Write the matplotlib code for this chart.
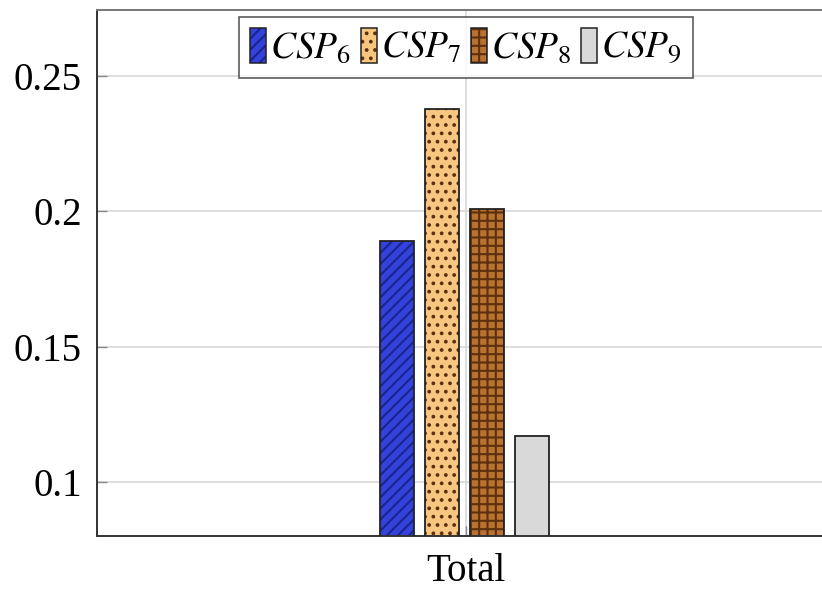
import numpy as np
import matplotlib
matplotlib.use("Agg")
import matplotlib.pyplot as plt
from matplotlib.patches import Patch

plt.rcParams['font.family'] = ['Liberation Serif', 'DejaVu Serif']
plt.rcParams['mathtext.fontset'] = 'stix'
plt.rcParams['hatch.linewidth'] = 1.5

# data
series = [r'$CSP_6$', r'$CSP_7$', r'$CSP_8$', r'$CSP_9$']
values = [0.189, 0.238, 0.201, 0.117]
category = 'Total'

face_colors = ['#3442dc', '#f8c680', '#b9722f', '#d9d9d9']
hatch_colors = ['#1a248c', '#5a3010', '#5e300e', '#d9d9d9']
hatches = ['///', '..', '++', '']

fig = plt.figure(figsize=(8.22, 5.92), dpi=100)
ax = fig.add_axes([97 / 822, 1 - 536 / 592, 738 / 822, 526 / 592])

width = 0.34
offsets = np.array([-0.675, -0.225, 0.225, 0.675]) - 0.02

handles = []
for i, v in enumerate(values):
    x = offsets[i]
    ax.bar(x, v, width, color=face_colors[i], edgecolor=hatch_colors[i],
           hatch=hatches[i], linewidth=0, zorder=2)
    ax.bar(x, v, width, fill=False, edgecolor='#222222', linewidth=1.3, zorder=3)
    handles.append((Patch(facecolor=face_colors[i], edgecolor=hatch_colors[i],
                          hatch=hatches[i], linewidth=0),
                    Patch(fill=False, edgecolor='#222222', linewidth=1.1)))

ax.set_xlim(-3.69, 3.69)
ax.set_ylim(0.08, 0.2745)
ax.set_yticks([0.1, 0.15, 0.2, 0.25])
ax.set_yticklabels(['0.1', '0.15', '0.2', '0.25'])
ax.set_xticks([0])
ax.set_xticklabels([category])

ax.tick_params(axis='both', direction='in', length=7, width=1, color='#888888',
               labelsize=28, pad=11)
ax.tick_params(axis='x', pad=12)
ax.grid(True, color='#d4d4d4', linewidth=1.1)
ax.set_axisbelow(True)

for name, sp in ax.spines.items():
    sp.set_linewidth(1.4)
    sp.set_color('#333333' if name in ('left', 'bottom') else '#777777')

leg = ax.legend(handles, series, loc='upper center', bbox_to_anchor=(0.5, 0.987),
                ncol=4, fontsize=27, frameon=True, fancybox=False,
                handlelength=0.42, handleheight=1.05, handletextpad=0.12,
                columnspacing=0.25, borderpad=0.3, borderaxespad=0.0)
leg.get_frame().set_edgecolor('#333333')
leg.get_frame().set_linewidth(1.2)

fig.savefig('out.png', dpi=100)
